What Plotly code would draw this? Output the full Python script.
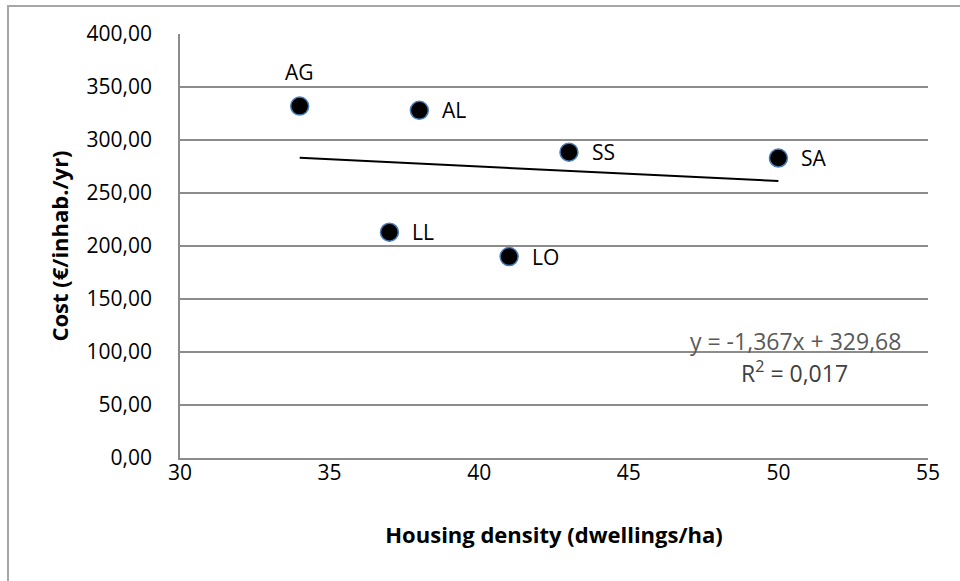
import plotly.graph_objects as go

# Data
sites = ["AG", "AL", "LL", "LO", "SS", "SA"]
density = [34, 38, 37, 41, 43, 50]          # dwellings/ha
cost = [332, 328, 213, 190, 288.5, 283]     # €/inhab./yr

# Linear trendline as shown in the chart
slope = -1.367
intercept = 329.68
r2 = 0.017

x_ticks = [30, 35, 40, 45, 50, 55]
y_ticks = [0, 50, 100, 150, 200, 250, 300, 350, 400]

FONT = "Open Sans"
GRID = "#8c8c8c"

fig = go.Figure()

tx = [min(density), max(density)]
ty = [slope * v + intercept for v in tx]
fig.add_trace(go.Scatter(x=tx, y=ty, mode="lines",
                         line=dict(color="#000000", width=2),
                         hoverinfo="skip", showlegend=False))

fig.add_trace(go.Scatter(x=density, y=cost, mode="markers",
                         marker=dict(size=18, color="#000000",
                                     line=dict(color="#4a7ebb", width=1.5)),
                         text=sites, showlegend=False))

for s, xv, yv in zip(sites, density, cost):
    if s == "AG":
        fig.add_annotation(x=xv, y=yv, text=s, showarrow=False,
                           xanchor="center", yanchor="middle", yshift=34,
                           font=dict(family=FONT, size=21, color="#000000"))
    else:
        fig.add_annotation(x=xv, y=yv, text=s, showarrow=False,
                           xanchor="left", yanchor="middle", xshift=21,
                           font=dict(family=FONT, size=21, color="#000000"))

eq = f"y = {slope:.3f}x + {intercept:.2f}".replace(".", ",")
fig.add_annotation(x=1.0, y=100, xref="paper", yref="y", text=eq,
                   showarrow=False, xanchor="right", yanchor="middle",
                   xshift=-25, yshift=11,
                   font=dict(family=FONT, size=23, color="#595959"))
fig.add_annotation(x=1.0, y=100, xref="paper", yref="y",
                   text=f"R<sup>2</sup> = {r2:.3f}".replace(".", ","),
                   showarrow=False, xanchor="right", yanchor="middle",
                   xshift=-78, yshift=-20,
                   font=dict(family=FONT, size=23, color="#404040"))

# outer chart frame
fig.add_shape(type="rect", xref="paper", yref="paper",
              x0=(8 - 180) / 748, x1=(975 - 180) / 748,
              y0=(458 - 600) / 424, y1=(458 - 6) / 424,
              line=dict(color="#a6a6a6", width=2), layer="below")

fig.update_layout(
    width=960, height=581,
    margin=dict(l=180, r=32, t=34, b=123),
    paper_bgcolor="white", plot_bgcolor="white",
    separators=", ",
    font=dict(family=FONT, color="#000000"),
    xaxis=dict(range=[30, 55], tickvals=x_ticks, showgrid=False,
               showline=True, linecolor=GRID, linewidth=1.5, zeroline=False,
               ticks="", ticklabelstandoff=-5,
               tickfont=dict(size=21, color="#000000"),
               title=dict(text="<b>Housing density (dwellings/ha)</b>",
                          font=dict(size=22, color="#000000"), standoff=43)),
    yaxis=dict(range=[0, 400], tickvals=y_ticks, tickformat=".2f",
               showgrid=True, gridcolor=GRID, gridwidth=1.5,
               showline=True, linecolor=GRID, linewidth=1.5, zeroline=False,
               ticks="", ticklabelstandoff=22,
               tickfont=dict(size=21, color="#000000"),
               title=dict(text="<b>Cost (€/inhab./yr)</b>",
                          font=dict(size=22, color="#000000"), standoff=12)),
)

fig.write_html("out.html", config={"displayModeBar": False},
               post_script="document.body.style.margin='0';")
